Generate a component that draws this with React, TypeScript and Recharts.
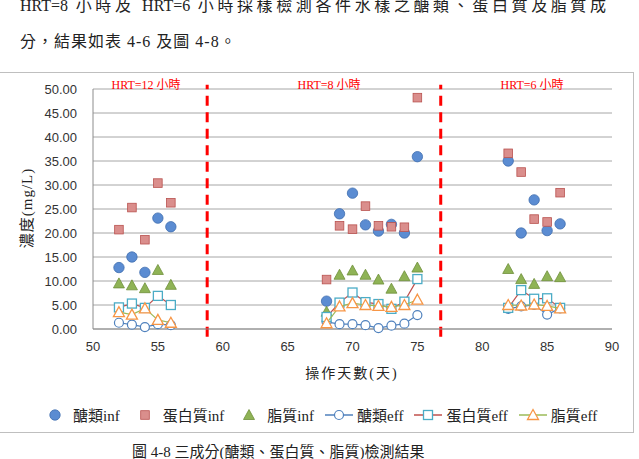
import React from "react";
import { ScatterChart, Scatter, XAxis, YAxis, CartesianGrid, ReferenceLine } from "recharts";

// sampling days (操作天數)
const days = [52, 53, 54, 55, 56, 68, 69, 70, 71, 72, 73, 74, 75, 82, 83, 84, 85, 86];

// influent concentrations, mg/L
const sugarInf = [12.8, 15.0, 11.8, 23.1, 21.3, 5.8, 24.0, 28.3, 21.7, 20.4, 21.8, 20.0, 35.9, 35.0, 20.0, 26.9, 20.5, 21.9];
const proteinInf = [20.7, 25.3, 18.6, 30.4, 26.3, 10.3, 21.5, 20.8, 25.6, 21.5, 21.3, 21.2, 48.2, 36.6, 32.7, 22.9, 22.3, 28.4];
const lipidInf = [9.5, 9.1, 8.5, 12.3, 9.2, 3.6, 11.3, 12.2, 11.3, 10.3, 8.4, 11.0, 12.8, 12.5, 10.4, 9.4, 11.0, 10.8];

// effluent concentrations, mg/L
const sugarEff = [1.3, 0.9, 0.4, 1.0, 0.8, 1.5, 1.0, 1.0, 0.8, 0.2, 0.7, 1.1, 2.9, 4.2, 4.7, 5.0, 3.0, 4.3];
const proteinEff = [4.5, 5.3, 4.4, 6.9, 5.0, 2.5, 5.5, 7.6, 5.6, 5.2, 4.2, 5.7, 10.4, 4.4, 8.1, 6.3, 6.4, 4.4];
const lipidEff = [3.5, 3.0, 4.3, 1.9, 1.3, 1.2, 4.7, 5.4, 5.0, 4.8, 4.6, 5.0, 6.1, 5.0, 4.9, 5.1, 4.8, 4.3];

// HRT periods: day ranges and the breaks drawn between them
const hrtRanges = [
  [52, 56],
  [68, 75],
  [82, 86],
];
const hrtLabels = ["HRT=12 小時", "HRT=8 小時", "HRT=6 小時"];
const hrtBreaks = [58.8, 76.8];

const xTicks = [50, 55, 60, 65, 70, 75, 80, 85, 90];
const yTicks = [0, 5, 10, 15, 20, 25, 30, 35, 40, 45, 50];

const SERIF = '"Liberation Serif", "Noto Sans CJK TC", serif';
const SANS = '"Liberation Sans", Arial, sans-serif';

const pts = (vals: number[], range?: number[]) =>
  days
    .map((d, i) => ({ x: d, y: vals[i] }))
    .filter((p) => !range || (p.x >= range[0] && p.x <= range[1]));

// marker shapes
const FilledCircle = (p: any) => (
  <circle cx={p.cx} cy={p.cy} r={5.2} fill="#5B8CD2" stroke="#3F6DAE" strokeWidth={0.8} />
);
const FilledSquare = (p: any) => (
  <rect x={p.cx - 4.3} y={p.cy - 4.3} width={8.6} height={8.6} fill="#DA8E8C" stroke="#B9524F" strokeWidth={0.8} />
);
const FilledTriangle = (p: any) => (
  <polygon
    points={`${p.cx},${p.cy - 5.5} ${p.cx + 5.5},${p.cy + 4.5} ${p.cx - 5.5},${p.cy + 4.5}`}
    fill="#8FB356"
    stroke="#6E8F3A"
    strokeWidth={0.8}
  />
);
const OpenCircle = (p: any) => (
  <circle cx={p.cx} cy={p.cy} r={4.5} fill="#fff" stroke="#4F81BD" strokeWidth={1.2} />
);
const OpenSquare = (p: any) => (
  <rect x={p.cx - 4.5} y={p.cy - 4.5} width={9} height={9} fill="#fff" stroke="#4BACC6" strokeWidth={1.3} />
);
const OpenTriangle = (p: any) => (
  <polygon
    points={`${p.cx},${p.cy - 5.5} ${p.cx + 5.5},${p.cy + 4.5} ${p.cx - 5.5},${p.cy + 4.5}`}
    fill="#fff"
    stroke="#F79646"
    strokeWidth={1.3}
  />
);

const legendItems = [
  { name: "醣類inf", shape: FilledCircle, line: null },
  { name: "蛋白質inf", shape: FilledSquare, line: null },
  { name: "脂質inf", shape: FilledTriangle, line: null },
  { name: "醣類eff", shape: OpenCircle, line: "#4F81BD" },
  { name: "蛋白質eff", shape: OpenSquare, line: "#C0504D" },
  { name: "脂質eff", shape: OpenTriangle, line: "#9BBB59" },
];

const effSeries = [
  { name: "醣類eff", vals: sugarEff, shape: OpenCircle, line: "#4F81BD" },
  { name: "蛋白質eff", vals: proteinEff, shape: OpenSquare, line: "#C0504D" },
  { name: "脂質eff", vals: lipidEff, shape: OpenTriangle, line: "#9BBB59" },
];

function ChartLegend() {
  return (
    <div
      style={{
        position: "absolute",
        left: 40,
        top: 404,
        display: "flex",
        alignItems: "center",
        fontFamily: SERIF,
        fontSize: 15,
        color: "#222",
        whiteSpace: "nowrap",
      }}
    >
      {legendItems.map((it) => {
        const Shape = it.shape;
        return (
          <div key={it.name} style={{ display: "flex", alignItems: "center", marginRight: 10 }}>
            <svg width={30} height={18}>
              {it.line && <line x1={1} y1={9} x2={29} y2={9} stroke={it.line} strokeWidth={1.5} />}
              <Shape cx={15} cy={9} />
            </svg>
            <span style={{ marginLeft: 3 }}>{it.name}</span>
          </div>
        );
      })}
    </div>
  );
}

export default function App() {
  const labelCenters = [146, 329, 532];
  return (
    <div style={{ position: "absolute", left: 0, top: 0, width: 639, height: 459, background: "#fff", overflow: "hidden" }}>
      {/* paragraph above the figure */}
      <div
        style={{
          position: "absolute",
          left: 20,
          top: -8,
          width: 586,
          fontFamily: SERIF,
          fontSize: 16,
          color: "#222",
          textAlign: "justify",
          textAlignLast: "justify",
          whiteSpace: "nowrap",
        }}
      >
        HRT=8 小時及 HRT=6 小時採樣檢測各件水樣之醣類、蛋白質及脂質成
      </div>
      <div
        style={{
          position: "absolute",
          left: 20,
          top: 28,
          fontFamily: SERIF,
          fontSize: 16,
          letterSpacing: 1,
          color: "#222",
        }}
      >
        分，結果如表 4-6 及圖 4-8。
      </div>

      {/* chart frame */}
      <div
        style={{
          position: "absolute",
          left: -1,
          top: 72,
          width: 635,
          height: 361,
          border: "1px solid #BFBFBF",
          boxSizing: "border-box",
        }}
      />

      <div style={{ position: "absolute", left: 0, top: 0 }}>
        <ScatterChart width={639} height={459} margin={{ top: 89, right: 27, bottom: 100, left: 33 }}>
          <CartesianGrid vertical={false} stroke="#A6A6A6" />
          <XAxis
            type="number"
            dataKey="x"
            domain={[50, 90]}
            ticks={xTicks}
            height={30}
            tickLine={false}
            tickSize={0}
            tickMargin={13}
            axisLine={{ stroke: "#8C8C8C" }}
            tick={{ fontFamily: SANS, fontSize: 13, fill: "#333" }}
          />
          <YAxis
            type="number"
            dataKey="y"
            domain={[0, 50]}
            ticks={yTicks}
            width={60}
            tickLine={false}
            tickSize={0}
            tickMargin={16}
            axisLine={{ stroke: "#8C8C8C" }}
            tickFormatter={(v: number) => v.toFixed(2)}
            tick={{ fontFamily: SANS, fontSize: 13, fill: "#333" }}
          />
          {hrtBreaks.map((b) => (
            <ReferenceLine
              key={b}
              segment={[
                { x: b, y: -1.6 },
                { x: b, y: 50.9 },
              ]}
              ifOverflow="visible"
              stroke="#FF0000"
              strokeWidth={3}
              strokeDasharray="10 6.5"
            />
          ))}
          <Scatter name="醣類inf" data={pts(sugarInf)} shape={FilledCircle} isAnimationActive={false} />
          <Scatter name="蛋白質inf" data={pts(proteinInf)} shape={FilledSquare} isAnimationActive={false} />
          <Scatter name="脂質inf" data={pts(lipidInf)} shape={FilledTriangle} isAnimationActive={false} />
          {effSeries.map((s) =>
            hrtRanges.map((r) => (
              <Scatter
                key={s.name + r[0]}
                name={s.name}
                data={pts(s.vals, r)}
                shape={s.shape}
                line={{ stroke: s.line, strokeWidth: 1.2 }}
                lineType="joint"
                legendType="none"
                isAnimationActive={false}
              />
            ))
          )}
        </ScatterChart>
      </div>

      {/* HRT period labels */}
      {hrtLabels.map((t, i) => (
        <div
          key={t}
          style={{
            position: "absolute",
            left: labelCenters[i] - 50,
            width: 100,
            top: 75,
            textAlign: "center",
            fontFamily: SERIF,
            fontSize: 12,
            color: "#FF0000",
            whiteSpace: "nowrap",
          }}
        >
          {t}
        </div>
      ))}

      {/* axis titles */}
      <div
        style={{
          position: "absolute",
          left: 27 - 60,
          top: 208 - 10,
          width: 120,
          height: 20,
          lineHeight: "20px",
          textAlign: "center",
          transform: "rotate(-90deg)",
          fontFamily: SERIF,
          fontSize: 15,
          letterSpacing: 1,
          color: "#222",
          whiteSpace: "nowrap",
        }}
      >
        濃度(mg/L)
      </div>
      <div
        style={{
          position: "absolute",
          left: 352 - 70,
          width: 140,
          top: 362,
          textAlign: "center",
          fontFamily: SERIF,
          fontSize: 14,
          letterSpacing: 2,
          color: "#222",
          whiteSpace: "nowrap",
        }}
      >
        操作天數(天)
      </div>

      <ChartLegend />

      <div
        style={{
          position: "absolute",
          left: 132,
          top: 440,
          fontFamily: SERIF,
          fontSize: 15,
          color: "#222",
          whiteSpace: "nowrap",
        }}
      >
        圖 4-8 三成分(醣類、蛋白質、脂質)檢測結果
      </div>
    </div>
  );
}
